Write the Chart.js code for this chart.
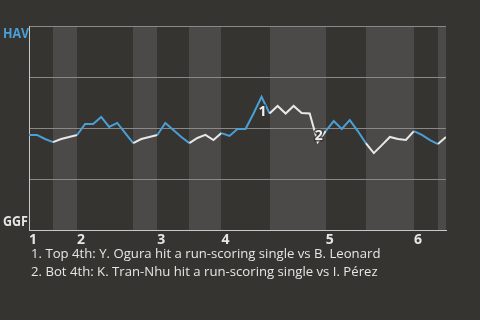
<!DOCTYPE html>
<html><head><meta charset="utf-8">
<script src="https://cdn.jsdelivr.net/npm/chart.js@4.4.1/dist/chart.umd.min.js"></script>
<style>
html,body{margin:0;padding:0;background:#363430;}
#wrap{position:relative;width:480px;height:320px;overflow:hidden;background:#363430;}
canvas{position:absolute;left:0;top:0;}
.team{position:absolute;left:3px;font-family:'Open Sans',sans-serif;font-weight:700;font-size:15px;line-height:15px;transform:scaleX(0.83);transform-origin:0 0;white-space:nowrap}
#notes{position:absolute;left:31px;top:244px;font-family:'Open Sans',sans-serif;font-size:13.5px;color:#e6e6e6;line-height:18px;white-space:nowrap;transform:scaleX(0.975);transform-origin:0 0}
</style></head>
<body><div id="wrap"><canvas id="c" width="480" height="320"></canvas>
<div class="team" id="teamTop" style="top:25px;color:#4a9fd6"></div>
<div class="team" id="teamBottom" style="top:213px;color:#e6e6e6"></div>
<div id="notes"></div>
</div>
<script>
// ---- data ----
const teams = ['HAV', 'GGF'];
const inningLabels = ['1', '2', '3', '4', '5', '6'];
const inningStarts = [0, 6, 16, 24, 37, 48];
const bottomHalves = [[3, 6], [13, 16], [20, 24], [30, 37], [42, 48], [51, 52]];
const winProb = [
  0.466, 0.466, 0.446, 0.431, 0.446, 0.456, 0.466, 0.520, 0.520, 0.554,
  0.505, 0.525, 0.475, 0.426, 0.446, 0.456, 0.466, 0.525, 0.490, 0.456,
  0.426, 0.451, 0.466, 0.441, 0.475, 0.461, 0.495, 0.495, 0.571, 0.653,
  0.571, 0.608, 0.571, 0.608, 0.574, 0.571, 0.431, 0.485, 0.534, 0.495,
  0.539, 0.485, 0.426, 0.377, 0.416, 0.456, 0.446, 0.441, 0.485, 0.466,
  0.441, 0.421, 0.456
];
const eventIndex = [29, 36];
const eventLabels = ['1', '2'];
const eventNotes = [
  'Top 4th: Y. Ogura hit a run-scoring single vs B. Leonard',
  'Bot 4th: K. Tran-Nhu hit a run-scoring single vs I. Pérez'
];

// ---- style ----
const BLUE = '#4a9fd6';
const WHITE = '#e8e8e8';
const BAND = '#4b4a48';
const eventOffsets = [[1, 15], [1, -6]];

document.getElementById('teamTop').textContent = teams[0];
document.getElementById('teamBottom').textContent = teams[1];
document.getElementById('notes').innerHTML = eventNotes.map((n, i) => eventLabels[i] + '. ' + n).join('<br>');

const isBottom = i => bottomHalves.some(([a, b]) => i >= a && i < b);

const bandsPlugin = {
  id: 'bands',
  beforeDraw(chart) {
    const {ctx, chartArea: a, scales: {x}} = chart;
    ctx.save();
    ctx.fillStyle = BAND;
    bottomHalves.forEach(([s, e]) => {
      const x0 = Math.round(x.getPixelForValue(s));
      const x1 = Math.round(x.getPixelForValue(e));
      ctx.fillRect(x0, a.top, x1 - x0, a.bottom - a.top);
    });
    ctx.restore();
  }
};

const eventsPlugin = {
  id: 'events',
  afterDatasetsDraw(chart) {
    const {ctx} = chart;
    const meta = chart.getDatasetMeta(0);
    ctx.save();
    ctx.font = 'bold 14px "Open Sans"';
    ctx.textAlign = 'center';
    ctx.textBaseline = 'middle';
    ctx.lineWidth = 3;
    ctx.strokeStyle = 'rgba(54,52,48,0.8)';
    ctx.fillStyle = '#f0f0f0';
    eventIndex.forEach((idx, k) => {
      const p = meta.data[idx];
      const tx = p.x + eventOffsets[k][0], ty = p.y + eventOffsets[k][1];
      ctx.strokeText(eventLabels[k], tx, ty);
      ctx.fillText(eventLabels[k], tx, ty);
    });
    ctx.restore();
  }
};

new Chart(document.getElementById('c'), {
  type: 'line',
  data: {
    datasets: [{
      data: winProb.map((v, i) => ({x: i, y: v})),
      borderColor: BLUE,
      borderWidth: 2,
      pointRadius: 0,
      tension: 0,
      fill: false,
      segment: {
        borderColor: c => isBottom(c.p0DataIndex) ? WHITE : BLUE
      }
    }]
  },
  options: {
    responsive: false,
    animation: false,
    devicePixelRatio: 1,
    layout: {padding: {left: 0, right: 34, top: 26, bottom: 0}},
    plugins: {legend: {display: false}, tooltip: {enabled: false}},
    scales: {
      x: {
        type: 'linear',
        min: 0, max: 52,
        afterFit: s => { s.height = 90; },
        afterBuildTicks: s => { s.ticks = inningStarts.map(v => ({value: v})); },
        ticks: {
          align: 'start',
          padding: -6,
          autoSkip: false,
          maxRotation: 0,
          color: '#e6e6e6',
          font: {family: 'Open Sans', size: 14, weight: 'bold'},
          callback: v => inningLabels[inningStarts.indexOf(v)]
        },
        grid: {display: false},
        border: {color: '#c8c8c8', width: 1}
      },
      y: {
        min: 0, max: 1,
        afterFit: s => { s.width = 29; },
        ticks: {display: false, stepSize: 0.25},
        grid: {color: '#8a8987', drawTicks: false},
        border: {color: '#c8c8c8', width: 1}
      }
    }
  },
  plugins: [bandsPlugin, eventsPlugin]
});
</script>
</body></html>
